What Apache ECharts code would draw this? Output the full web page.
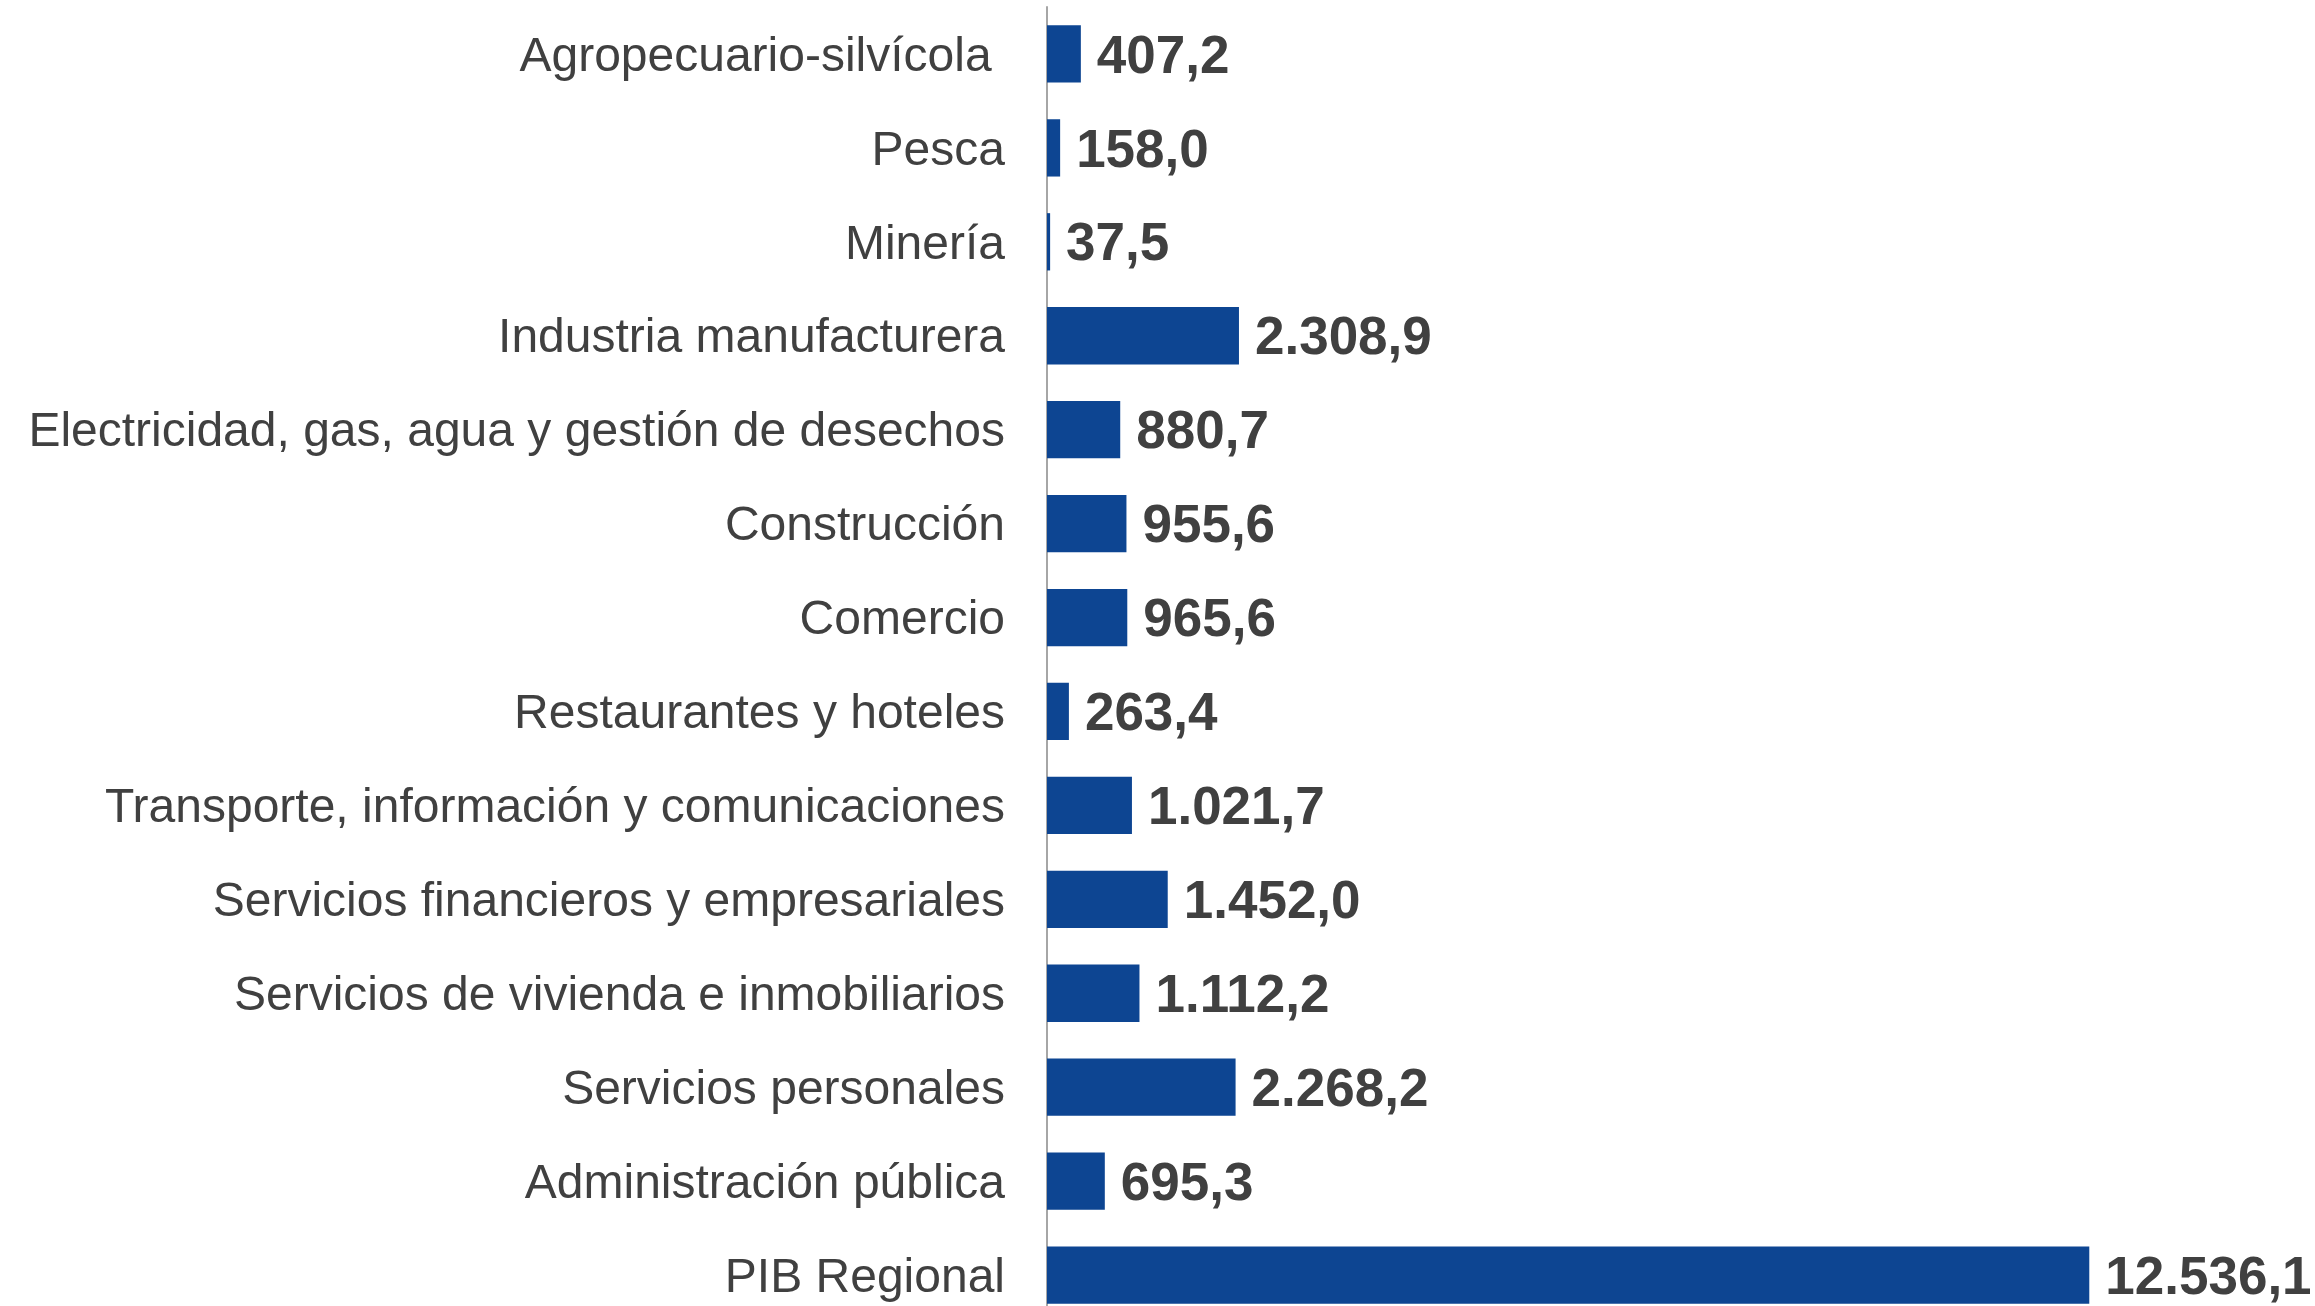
<!DOCTYPE html>
<html>
<head>
<meta charset="utf-8">
<script src="https://cdn.jsdelivr.net/npm/echarts@6/dist/echarts.min.js"></script>
<style>html,body{margin:0;padding:0;background:#fff;overflow:hidden;}#c{width:2315px;height:1340px;}</style>
</head>
<body>
<div id="c"></div>
<script>
const categories = [
  "Agropecuario-silvícola ",
  "Pesca",
  "Minería",
  "Industria manufacturera",
  "Electricidad, gas, agua y gestión de desechos",
  "Construcción",
  "Comercio",
  "Restaurantes y hoteles",
  "Transporte, información y comunicaciones",
  "Servicios financieros y empresariales",
  "Servicios de vivienda e inmobiliarios",
  "Servicios personales",
  "Administración pública",
  "PIB Regional"
];
const values = [407.2, 158.0, 37.5, 2308.9, 880.7, 955.6, 965.6, 263.4, 1021.7, 1452.0, 1112.2, 2268.2, 695.3, 12536.1];

function fmt(v) {
  const parts = v.toFixed(1).split('.');
  const int = parts[0].replace(/\B(?=(\d{3})+(?!\d))/g, '.');
  return int + ',' + parts[1];
}

const chart = echarts.init(document.getElementById('c'), null, {renderer: 'canvas'});
chart.setOption({
  animation: false,
  backgroundColor: '#ffffff',
  grid: {left: 1047, top: 7, width: 1164, height: 1315, containLabel: false, outerBoundsMode: 'none'},
  xAxis: {
    type: 'value', min: 0, max: 14000,
    show: false
  },
  yAxis: {
    type: 'category', data: categories, inverse: true,
    axisLine: {show: true, lineStyle: {color: '#A6A6A6', width: 2}},
    axisTick: {show: false},
    axisLabel: {
      margin: 42,
      formatter: v => '{a|' + v + '}',
      rich: {
        a: {
          color: '#404040', fontSize: 48,
          padding: [7, 0, 0, 0],
          fontFamily: 'Liberation Sans, Arial, sans-serif'
        }
      }
    }
  },
  series: [{
    type: 'bar',
    data: values,
    barWidth: '61%',
    itemStyle: {color: '#0D4592'},
    label: {
      show: true, position: 'right', distance: 16,
      offset: [0, 4],
      color: '#404040', fontSize: 53, fontWeight: 'bold',
      fontFamily: 'Liberation Sans, Arial, sans-serif',
      formatter: p => fmt(p.value)
    }
  }]
});
</script>
</body>
</html>
